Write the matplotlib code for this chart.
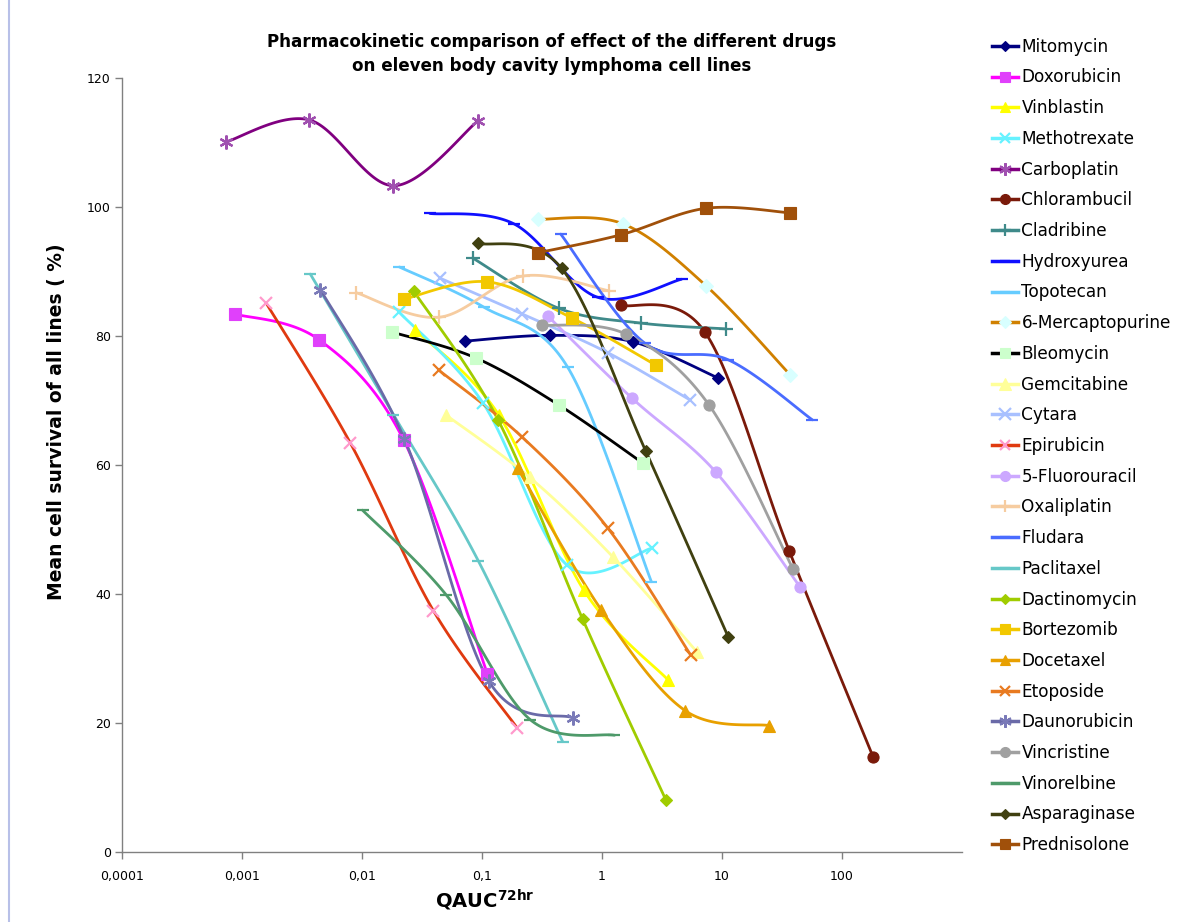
import numpy as np
import matplotlib
matplotlib.use("Agg")
import matplotlib.pyplot as plt
from matplotlib.lines import Line2D

# ---------------- data ----------------
drugs = ["Mitomycin", "Doxorubicin", "Vinblastin", "Methotrexate", "Carboplatin",
         "Chlorambucil", "Cladribine", "Hydroxyurea", "Topotecan", "6-Mercaptopurine",
         "Bleomycin", "Gemcitabine", "Cytara", "Epirubicin", "5-Fluorouracil",
         "Oxaliplatin", "Fludara", "Paclitaxel", "Dactinomycin", "Bortezomib",
         "Docetaxel", "Etoposide", "Daunorubicin", "Vincristine", "Vinorelbine",
         "Asparaginase", "Prednisolone"]

mitomycin_x = [0.0716, 0.366, 1.81, 9.27]
mitomycin_y = [79.2, 80.1, 79.1, 73.5]
doxorubicin_x = [0.000877, 0.0044, 0.0222, 0.111]
doxorubicin_y = [83.4, 79.4, 63.9, 27.6]
vinblastin_x = [0.0279, 0.1375, 0.705, 3.54]
vinblastin_y = [80.9, 67.8, 40.6, 26.7]
methotrexate_x = [0.0204, 0.102, 0.51, 2.6]
methotrexate_y = [83.7, 69.6, 44.5, 47.1]
carboplatin_x = [0.000738, 0.00364, 0.0183, 0.0919]
carboplatin_y = [110.1, 113.5, 103.3, 113.3]
chlorambucil_x = [1.435, 7.21, 36.3, 182.0]
chlorambucil_y = [84.8, 80.6, 46.7, 14.7]
cladribine_x = [0.0834, 0.435, 2.11, 10.8]
cladribine_y = [92.1, 84.3, 82.0, 81.1]
hydroxyurea_x = [0.0368, 0.184, 0.92, 4.6]
hydroxyurea_y = [99.0, 97.4, 86.0, 88.8]
topotecan_x = [0.0205, 0.103, 0.516, 2.58]
topotecan_y = [90.7, 84.5, 75.2, 41.9]
mercaptopurine_x = [0.291, 1.49, 7.35, 36.9]
mercaptopurine_y = [98.1, 97.4, 87.8, 74.0]
bleomycin_x = [0.0179, 0.0887, 0.437, 2.19]
bleomycin_y = [80.6, 76.6, 69.3, 60.3]
gemcitabine_x = [0.0497, 0.249, 1.24, 6.2]
gemcitabine_y = [67.8, 58.1, 45.7, 31.0]
cytara_x = [0.0443, 0.217, 1.12, 5.4]
cytara_y = [89.0, 83.4, 77.4, 70.1]
epirubicin_x = [0.00159, 0.0080, 0.0394, 0.197]
epirubicin_y = [85.1, 63.4, 37.4, 19.2]
fluorouracil_x = [0.353, 1.77, 8.88, 44.7]
fluorouracil_y = [83.1, 70.4, 58.9, 41.1]
oxaliplatin_x = [0.00898, 0.0437, 0.22, 1.15]
oxaliplatin_y = [86.7, 82.9, 89.3, 87.0]
fludara_x = [0.453, 2.27, 11.3, 56.6]
fludara_y = [95.8, 78.9, 76.3, 67.0]
paclitaxel_x = [0.00371, 0.0183, 0.0934, 0.47]
paclitaxel_y = [89.6, 67.8, 45.1, 17.1]
dactinomycin_x = [0.0269, 0.136, 0.69, 3.4]
dactinomycin_y = [87.0, 67.0, 36.1, 8.1]
bortezomib_x = [0.0222, 0.111, 0.56, 2.8]
bortezomib_y = [85.7, 88.4, 82.8, 75.5]
docetaxel_x = [0.198, 0.99, 4.95, 24.8]
docetaxel_y = [59.5, 37.5, 21.9, 19.6]
etoposide_x = [0.0437, 0.217, 1.12, 5.5]
etoposide_y = [74.7, 64.3, 50.2, 30.5]
daunorubicin_x = [0.0045, 0.0226, 0.114, 0.57]
daunorubicin_y = [87.2, 64.0, 26.5, 20.8]
vincristine_x = [0.314, 1.58, 7.8, 39.0]
vincristine_y = [81.7, 80.3, 69.3, 43.9]
vinorelbine_x = [0.0101, 0.0506, 0.253, 1.27]
vinorelbine_y = [53.0, 39.8, 20.5, 18.1]
asparaginase_x = [0.0918, 0.46, 2.31, 11.3]
asparaginase_y = [94.4, 90.5, 62.2, 33.3]
prednisolone_x = [0.291, 1.44, 7.35, 36.9]
prednisolone_y = [92.9, 95.7, 99.8, 99.1]

x_ticks = [0.0001, 0.001, 0.01, 0.1, 1, 10, 100]
x_tick_labels = ["0,0001", "0,001", "0,01", "0,1", "1", "10", "100"]
y_ticks = [0, 20, 40, 60, 80, 100, 120]

series_x = [mitomycin_x, doxorubicin_x, vinblastin_x, methotrexate_x, carboplatin_x,
            chlorambucil_x, cladribine_x, hydroxyurea_x, topotecan_x, mercaptopurine_x,
            bleomycin_x, gemcitabine_x, cytara_x, epirubicin_x, fluorouracil_x,
            oxaliplatin_x, fludara_x, paclitaxel_x, dactinomycin_x, bortezomib_x,
            docetaxel_x, etoposide_x, daunorubicin_x, vincristine_x, vinorelbine_x,
            asparaginase_x, prednisolone_x]
series_y = [mitomycin_y, doxorubicin_y, vinblastin_y, methotrexate_y, carboplatin_y,
            chlorambucil_y, cladribine_y, hydroxyurea_y, topotecan_y, mercaptopurine_y,
            bleomycin_y, gemcitabine_y, cytara_y, epirubicin_y, fluorouracil_y,
            oxaliplatin_y, fludara_y, paclitaxel_y, dactinomycin_y, bortezomib_y,
            docetaxel_y, etoposide_y, daunorubicin_y, vincristine_y, vinorelbine_y,
            asparaginase_y, prednisolone_y]

AST = (6, 2, 0)  # asterisk marker
# ---------------- styles: (line colour, marker, marker colour, marker size) ----------------
styles = [
    ("#000080", "D", "#000080", 6),
    ("#FF00FF", "s", "#E040FB", 8),
    ("#FFFF00", "^", "#FFFF00", 8),
    ("#66F2FF", "x", "#66F2FF", 8),
    ("#800080", AST, "#A050B0", 10),
    ("#7A1A0A", "o", "#7A1A0A", 8),
    ("#3F8A8A", "+", "#3F8A8A", 10),
    ("#1010FF", "_", "#1010FF", 8),
    ("#66CCFF", "_", "#66CCFF", 8),
    ("#D08000", "D", "#D8FFFF", 7),
    ("#000000", "s", "#CCFFCC", 8),
    ("#FFFF99", "^", "#FFFF99", 9),
    ("#A8C0FF", "x", "#A8C0FF", 9),
    ("#E03A10", "x", "#FF99CC", 8),
    ("#CCA8FF", "o", "#CCA8FF", 8),
    ("#F6CCA0", "+", "#F6CCA0", 10),
    ("#4A6CFF", "_", "#4A6CFF", 8),
    ("#66C8C8", "_", "#66C8C8", 8),
    ("#A0CC00", "D", "#A0CC00", 6),
    ("#F2C800", "s", "#F2C800", 8),
    ("#E8A000", "^", "#E8A000", 8),
    ("#E87A20", "x", "#E87A20", 8),
    ("#6A6AA8", AST, "#7A7AB8", 10),
    ("#A0A0A0", "o", "#A0A0A0", 8),
    ("#4E9A6A", "_", "#4E9A6A", 8),
    ("#404010", "D", "#404010", 6),
    ("#A0500A", "s", "#A0500A", 8),
]


def smooth(xs, ys, n=40):
    """Excel-style smoothed line: Catmull-Rom Bezier in (log10 x, y) space."""
    u = np.log10(np.asarray(xs, float))
    v = np.asarray(ys, float)
    P = np.column_stack([u, v])
    m = len(P)
    out = [P[0]]
    t = np.linspace(0, 1, n)[1:, None]
    for i in range(m - 1):
        p0 = P[i - 1] if i > 0 else P[i]
        p1 = P[i]
        p2 = P[i + 1]
        p3 = P[i + 2] if i + 2 < m else P[i + 1]
        c1 = p1 + (p2 - p0) / 6.0
        c2 = p2 - (p3 - p1) / 6.0
        seg = ((1 - t) ** 3) * p1 + 3 * ((1 - t) ** 2) * t * c1 + 3 * (1 - t) * t ** 2 * c2 + t ** 3 * p2
        out.extend(seg)
    out = np.array(out)
    return 10 ** out[:, 0], out[:, 1]


plt.rcParams['font.family'] = ['DejaVu Sans']
fig = plt.figure(figsize=(11.92, 9.22), dpi=100)
ax = fig.add_axes([122 / 1192, 1 - 852 / 922, (962 - 122) / 1192, (852 - 78) / 922])

handles = []
for name, xs, ys, (lc, mk, mc, ms) in zip(drugs, series_x, series_y, styles):
    sx, sy = smooth(xs, ys)
    ax.plot(sx, sy, color=lc, lw=2.0, solid_capstyle='round', zorder=2)
    mew = 1.6 if (mk in ("x", "+", "_") or mk == AST) else 0.8
    ax.plot(xs, ys, ls='none', marker=mk, ms=ms, color=mc, mec=mc, mfc=mc, mew=mew, zorder=3)
    handles.append(Line2D([], [], color=lc, lw=2.5, marker=mk, ms=ms * 0.9,
                          mfc=mc, mec=mc, mew=mew))

ax.set_xscale('log')
ax.set_xlim(1e-4, 1e3)
ax.set_ylim(0, 120)
ax.set_xticks(x_ticks)
ax.set_xticklabels(x_tick_labels)
ax.xaxis.set_minor_locator(matplotlib.ticker.NullLocator())
ax.set_yticks(y_ticks)
for s in ("top", "right"):
    ax.spines[s].set_visible(False)
for s in ("left", "bottom"):
    ax.spines[s].set_color("#808080")
    ax.spines[s].set_linewidth(1.0)
ax.tick_params(axis='both', colors="#808080", labelcolor="black", labelsize=9, length=5, width=1.0)
ax.tick_params(axis='x', pad=8)
ax.tick_params(axis='y', pad=3)

# thin window frame line at the left edge, as in the reference
fig.add_artist(Line2D([9 / 1192, 9 / 1192], [0, 1], color="#B8C0E8", lw=1.5))

fig.text(552 / 1192, 1 - 54 / 922,
         "Pharmacokinetic comparison of effect of the different drugs\non eleven body cavity lymphoma cell lines",
         ha='center', va='center', fontsize=12.1, fontweight='bold', linespacing=1.4)
fig.text(57 / 1192, 1 - 422 / 922, "Mean cell survival of all lines ( %)", rotation=90,
         ha='center', va='center', fontsize=13.5, fontweight='bold')
fig.text(485 / 1192, 1 - 900 / 922, r"QAUC$^{\mathbf{72hr}}$", ha='center', va='center',
         fontsize=14, fontweight='bold')

fig.legend(handles, drugs, loc='upper left', bbox_to_anchor=(985 / 1192, 1 - 31 / 922),
           frameon=False, fontsize=12.2, handlelength=1.55, handletextpad=0.2,
           labelspacing=0.75, borderaxespad=0)

fig.savefig("out.png", dpi=100)
